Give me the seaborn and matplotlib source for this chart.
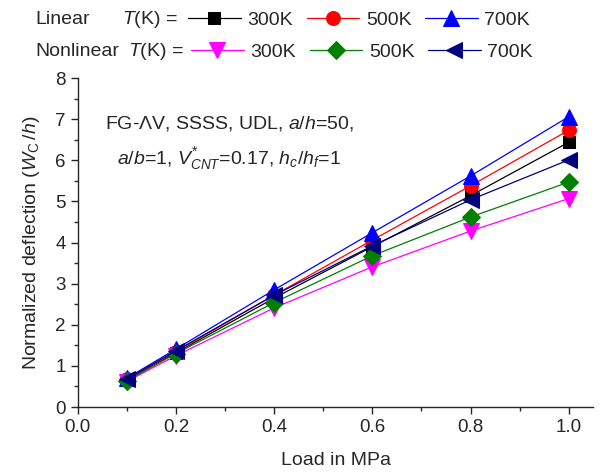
import numpy as np
import pandas as pd
import matplotlib
matplotlib.use("Agg")
import matplotlib.pyplot as plt
import seaborn as sns

load = [0.1, 0.2, 0.4, 0.6, 0.8, 1.0]

lin_300 = [0.66, 1.32, 2.65, 3.90, 5.14, 6.44]
lin_500 = [0.67, 1.35, 2.72, 4.06, 5.38, 6.73]
lin_700 = [0.70, 1.41, 2.85, 4.24, 5.62, 7.06]
non_300 = [0.62, 1.25, 2.41, 3.41, 4.28, 5.07]
non_500 = [0.64, 1.30, 2.54, 3.68, 4.62, 5.47]
non_700 = [0.68, 1.37, 2.72, 3.92, 5.04, 6.01]

temps = ["300K", "500K", "700K"]

sns.set_style("ticks")
plt.rcParams["font.family"] = ["Liberation Sans", "DejaVu Sans"]
plt.rcParams["mathtext.fontset"] = "custom"
plt.rcParams["mathtext.rm"] = "Liberation Sans"
plt.rcParams["mathtext.it"] = "Liberation Sans:italic"

fig = plt.figure(figsize=(6.03, 4.73), dpi=100)
ax = fig.add_axes([0.129, 0.1395, 0.855, 0.6955])

series = [
    (lin_300, "black", "s", 9),
    (lin_500, "red", "o", 10),
    (lin_700, "blue", "^", 11),
    (non_300, "magenta", "v", 11),
    (non_500, "green", "D", 9),
    (non_700, "navy", "<", 11),
]

handles = []
for vals, col, mk, ms in series:
    sns.lineplot(x=load, y=vals, color=col, marker=mk, markersize=ms,
                 markeredgecolor=col, linewidth=0.9, ax=ax)
    handles.append(ax.lines[-1])

ax.set_xlim(0, 1.05)
ax.set_ylim(0, 8)
ax.set_xticks(np.arange(0, 1.01, 0.2))
ax.set_xticks(np.arange(0.1, 1.01, 0.2), minor=True)
ax.set_yticks(range(0, 9))
ax.set_yticks(np.arange(0.5, 8, 1), minor=True)
ax.xaxis.set_major_formatter(matplotlib.ticker.FormatStrFormatter("%.1f"))
ax.tick_params(axis="both", which="major", labelsize=13.5, length=5, width=1, direction="out")
ax.tick_params(axis="both", which="minor", length=3, width=1, direction="out")
for s in ["top", "right"]:
    ax.spines[s].set_visible(False)
for s in ["left", "bottom"]:
    ax.spines[s].set_linewidth(1)

ax.set_xlabel("Load in MPa", fontsize=14, labelpad=12)
ax.set_ylabel(r"Normalized deflection ($W_{\mathrm{C}}\,/h$)", fontsize=14, labelpad=10)

ax.text(0.294, 0.89,
        "FG-\u039bV, SSSS, UDL, $a/h$=50,\n$a/b$=1, $V^{*}_{CNT}$=0.17, $h_c/h_f$=1",
        transform=ax.transAxes, ha="center", va="top", fontsize=14,
        multialignment="center", linespacing=1.6)

fig.text(35 / 603, 1 - 20 / 473, "Linear", fontsize=14, va="center")
fig.text(122 / 603, 1 - 20 / 473, "$T$(K) =", fontsize=14, va="center")
fig.text(35 / 603, 1 - 52 / 473, "Nonlinear", fontsize=14, va="center")
fig.text(128 / 603, 1 - 52 / 473, "$T$(K) =", fontsize=14, va="center")

leg_kw = dict(loc="center left", ncol=3, frameon=False, fontsize=14,
              borderaxespad=0, borderpad=0, handlelength=2.7,
              handletextpad=0.35, columnspacing=0.7)
leg1 = fig.legend(handles[:3], temps, bbox_to_anchor=(188 / 603, 1 - 20 / 473), **leg_kw)
leg2 = fig.legend(handles[3:], temps, bbox_to_anchor=(191 / 603, 1 - 52 / 473), **leg_kw)

fig.savefig("out.png", dpi=100)
